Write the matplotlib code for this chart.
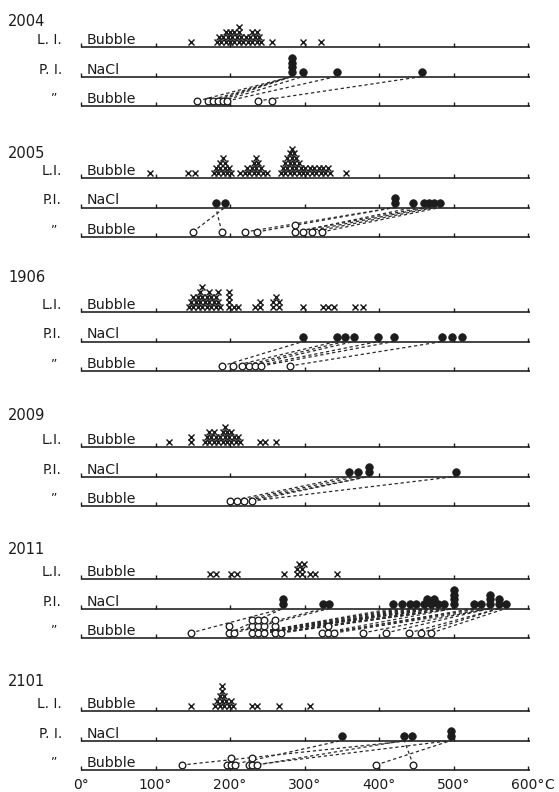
import matplotlib
matplotlib.use("Agg")
import matplotlib.pyplot as plt

# ---------------------------------------------------------------------------
# Homogenisation temperatures (deg C) for six samples.
# L.I.  = liquid inclusions, bubble disappearance
# P.I.  = polyphase inclusions: NaCl dissolution and bubble disappearance
# ---------------------------------------------------------------------------
samples = ["2004", "2005", "1906", "2009", "2011", "2101"]
li_labels = ["L. I.", "L.I.", "L.I.", "L.I.", "L.I.", "L. I."]
pi_labels = ["P. I.", "P.I.", "P.I.", "P.I.", "P.I.", "P. I."]

li_2004 = [148, 182, 185, 188, 191, 194, 194, 197, 200, 200, 203, 206, 206, 209,
           212, 212, 212, 215, 218, 221, 224, 227, 230, 230, 233, 236, 236, 239,
           242, 257, 298, 322]
nacl_2004 = [283, 283, 283, 283, 298, 343, 458]
bub_2004 = [156, 170, 177, 184, 190, 196, 237, 257]
link_2004 = [(156, 283), (170, 283), (177, 283), (184, 283), (190, 298),
             (196, 343), (237, 458)]

li_2005 = [93, 144, 153,
           178, 181, 184, 187, 187, 190, 190, 193, 193, 196, 199, 202,
           214, 220, 223, 226, 229, 232, 232, 235, 235, 238, 238, 241, 244, 250,
           268, 271, 274, 274, 277, 277, 280, 280, 280, 283, 283, 283, 286, 286,
           286, 289, 289, 292, 292, 295, 298, 301, 304, 307, 310, 313, 316, 319,
           322, 325, 328, 331, 334, 356]
nacl_2005 = [181, 193, 421, 421, 446, 460, 467, 474, 482]
bub_2005 = [150, 189, 220, 236, 287, 287, 298, 310, 323]
link_2005 = [(150, 193), (189, 181), (220, 421), (236, 421), (287, 446),
             (287, 460), (298, 467), (310, 474), (323, 482)]

li_1906 = [145, 148, 151, 151, 154, 157, 157, 160, 160, 163, 163, 163, 166, 169,
           169, 172, 172, 175, 175, 178, 181, 181, 184, 184, 187,
           199, 199, 199, 199, 205, 211, 234, 240, 240,
           258, 258, 262, 266, 266, 298, 325, 332, 339, 368, 379]
nacl_1906 = [298, 343, 354, 366, 399, 420, 485, 498, 511]
bub_1906 = [189, 204, 216, 225, 234, 242, 280]
link_1906 = [(189, 298), (204, 343), (216, 354), (225, 366), (234, 399),
             (242, 420), (280, 485)]

li_2009 = [118, 148, 148,
           166, 169, 172, 172, 175, 178, 178, 181, 184, 187, 190, 190, 193, 193,
           196, 196, 199, 202, 202, 205, 208, 211, 214,
           240, 247, 262]
nacl_2009 = [360, 372, 386, 386, 503]
bub_2009 = [200, 210, 219, 229]
link_2009 = [(200, 360), (210, 372), (219, 386), (229, 386), (229, 503)]

li_2011 = [173, 181, 202, 210, 272, 290, 290, 293, 296, 296, 299, 308, 314, 343]
nacl_2011 = [271, 271, 325, 333, 419, 431, 441, 450, 460, 465, 470, 474, 479,
             487, 500, 500, 500, 500, 527, 537, 549, 549, 549, 561, 561, 570]
bub_2011 = [147, 199, 199, 205, 230, 230, 230, 238, 238, 238, 246, 246, 246,
            261, 261, 261, 269, 324, 332, 332, 340, 378, 409, 440, 456, 470]
link_2011 = list(zip(sorted(bub_2011), sorted(nacl_2011)))

li_2101 = [147, 180, 183, 186, 186, 189, 189, 189, 192, 192, 195, 198, 201, 204,
           230, 236, 266, 307]
nacl_2101 = [350, 434, 444, 497, 497]
bub_2101 = [135, 196, 201, 201, 207, 225, 230, 230, 236, 396, 446]
link_2101 = [(135, 444), (201, 350), (230, 497), (236, 434), (396, 497),
             (446, 434)]

li_all = [li_2004, li_2005, li_1906, li_2009, li_2011, li_2101]
nacl_all = [nacl_2004, nacl_2005, nacl_1906, nacl_2009, nacl_2011, nacl_2101]
bub_all = [bub_2004, bub_2005, bub_1906, bub_2009, bub_2011, bub_2101]
link_all = [link_2004, link_2005, link_1906, link_2009, link_2011, link_2101]

tick_temps = [0, 100, 200, 300, 400, 500, 600]
tick_texts = ["0°", "100°", "200°", "300°", "400°", "500°", "600°"]

# ---------------------------------------------------------------------------
# Layout (figure pixels vertically, deg C horizontally)
# ---------------------------------------------------------------------------
W, H = 559, 792
PX_PER_DEG = 0.745
ORIGIN_PX = 81
group_top = [47, 178, 312, 447, 579, 711]
year_y = [21, 153, 278, 416, 549, 682]
ROW_GAP = 29.5
INK = "#1c1c1c"


def px2t(px):
    return (px - ORIGIN_PX) / PX_PER_DEG


def stack(values, sep):
    """Dot-plot stacking: each value goes to the lowest free level."""
    placed = []
    for v in sorted(values):
        lvl = 0
        while any(l == lvl and abs(v - p) < sep for p, l in placed):
            lvl += 1
        placed.append((v, lvl))
    return placed


fig = plt.figure(figsize=(W / 100, H / 100), dpi=100)
ax = fig.add_axes([0, 0, 1, 1])
ax.set_xlim(px2t(0), px2t(W))
ax.set_ylim(H, 0)
ax.axis("off")


def row_axis(y):
    ax.plot([0, 603], [y, y], color=INK, lw=1.15, solid_capstyle="butt", zorder=2)
    ax.vlines(tick_temps, y - 4, y, color=INK, lw=1.0, zorder=2)


for g, name in enumerate(samples):
    y_li = group_top[g]
    y_na = y_li + ROW_GAP
    y_bu = y_li + 2 * ROW_GAP

    ax.text(px2t(8), year_y[g], name, fontsize=10.5, color=INK,
            ha="left", va="center")
    ax.text(px2t(62), y_li - 3, li_labels[g], fontsize=9.8, color=INK,
            ha="right", va="baseline")
    ax.text(px2t(62), y_na - 3, pi_labels[g], fontsize=9.8, color=INK,
            ha="right", va="baseline")
    ax.text(px2t(54), y_bu - 7, "\u201d", fontsize=9, color=INK,
            ha="center", va="center")
    ax.text(px2t(87), y_li - 3, "Bubble", fontsize=10.2, color=INK,
            ha="left", va="baseline")
    ax.text(px2t(87), y_na - 3, "NaCl", fontsize=10.2, color=INK,
            ha="left", va="baseline")
    ax.text(px2t(87), y_bu - 3, "Bubble", fontsize=10.2, color=INK,
            ha="left", va="baseline")

    for y in (y_li, y_na, y_bu):
        row_axis(y)

    # tie lines between the two temperatures of one polyphase inclusion
    for b, n in link_all[g]:
        ax.plot([b, n], [y_bu - 5, y_na], color="#2a2a2a", lw=0.9,
                linestyle=(0, (2.6, 2.2)), zorder=3)

    # liquid inclusions: crosses
    pts = stack(li_all[g], 5.5)
    ax.plot([p for p, _ in pts], [y_li - 5.5 - 4.8 * l for _, l in pts],
            linestyle="none", marker="x", ms=4.8, mew=1.05, color=INK, zorder=4)

    # NaCl dissolution: filled dots
    pts = stack(nacl_all[g], 6)
    ax.plot([p for p, _ in pts], [y_na - 4.8 - 4.6 * l for _, l in pts],
            linestyle="none", marker="o", ms=5.4, mew=0.6, color=INK,
            mfc=INK, zorder=4)

    # bubble disappearance in polyphase inclusions: open circles
    pts = stack(bub_all[g], 3)
    ax.plot([p for p, _ in pts], [y_bu - 5 - 6.6 * l for _, l in pts],
            linestyle="none", marker="o", ms=4.8, mew=0.95, color=INK,
            mfc="white", zorder=4)

# temperature scale under the last sample
y_lab = 785
for t, s in zip(tick_temps, tick_texts):
    txt = ax.text(t, y_lab, s, fontsize=10, color=INK, ha="center", va="center")
ax.annotate("C", xy=(1, 0.5), xycoords=txt, ha="left", va="center",
            fontsize=10, color=INK)

fig.savefig("out.png", dpi=100, facecolor="white")
